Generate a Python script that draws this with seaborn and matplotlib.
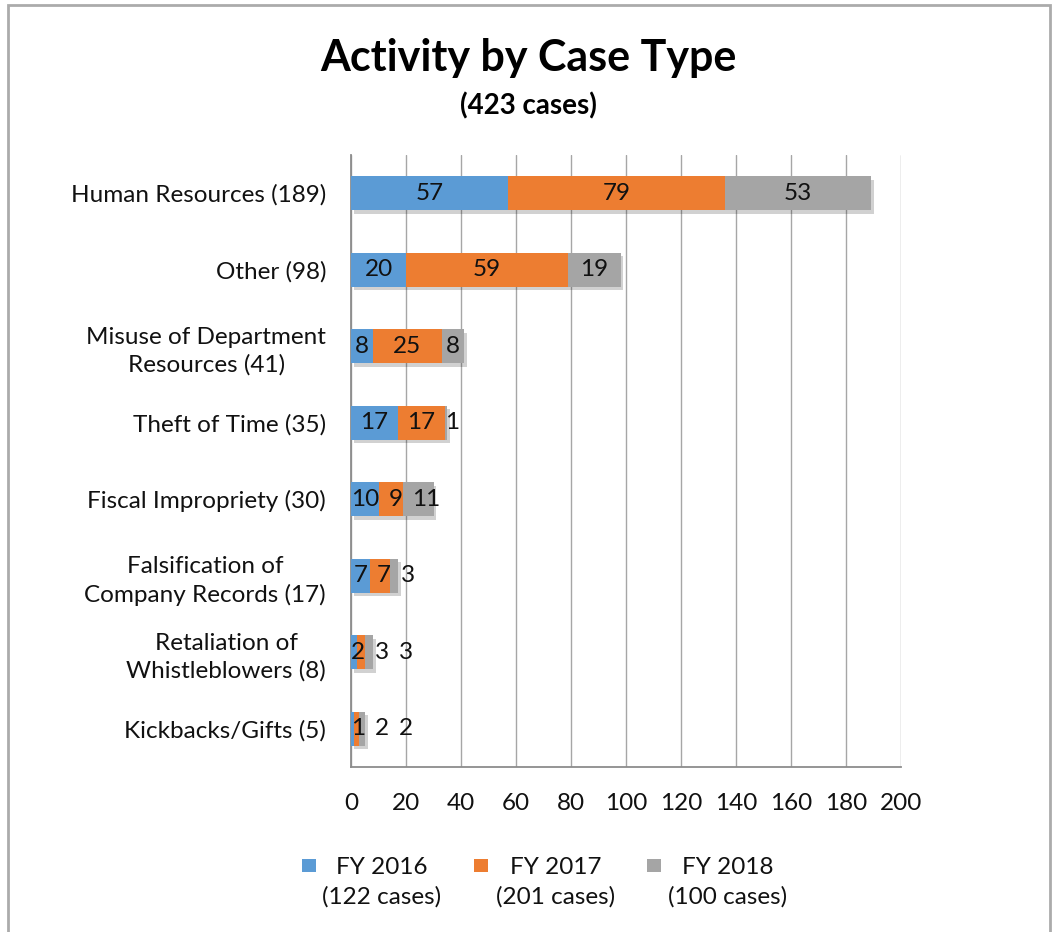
import matplotlib
matplotlib.use("Agg")
import matplotlib.pyplot as plt
import matplotlib.patheffects as pe
from matplotlib.patches import Rectangle
import seaborn as sns
import pandas as pd
import numpy as np

categories = ["Human Resources (189)", "Other (98)", "Misuse of Department\nResources (41)",
              "Theft of Time (35)", "Fiscal Impropriety (30)", "Falsification of\nCompany Records (17)",
              "Retaliation of\nWhistleblowers (8)", "Kickbacks/Gifts (5)"]
fy2016 = [57, 20, 8, 17, 10, 7, 2, 1]
fy2017 = [79, 59, 25, 17, 9, 7, 3, 2]
fy2018 = [53, 19, 8, 1, 11, 3, 3, 2]
series_names = ["FY 2016\n(122 cases)", "FY 2017\n(201 cases)", "FY 2018\n(100 cases)"]
colors = ["#5B9BD5", "#ED7D31", "#A5A5A5"]
xticks = list(range(0, 201, 20))

sns.set_theme(style="white")
plt.rcParams['font.family'] = ['Lato', 'DejaVu Sans']

FS = 17.5

fig = plt.figure(figsize=(10.57, 9.32), dpi=100)
ax = fig.add_axes([351/1057, 1-767/932, 550/1057, (767-155)/932])

df = pd.DataFrame({"cat": categories, "a": fy2016, "b": fy2017, "c": fy2018})
df["c1"] = df["a"]
df["c2"] = df["a"] + df["b"]
df["c3"] = df["a"] + df["b"] + df["c"]

shadow = [pe.SimplePatchShadow(offset=(2, -2.5), shadow_rgbFace="#000000", alpha=0.18), pe.Normal()]
for col, color in zip(["c3", "c2", "c1"], colors[::-1]):
    sns.barplot(data=df, x=col, y="cat", color=color, orient="h", width=0.44,
                saturation=1, ax=ax, order=categories, zorder=3)
for i, p in enumerate(ax.patches):
    p.set_edgecolor("none")
    if i < len(categories):
        p.set_path_effects(shadow)

ax.set_xlim(0, 200)
ax.set_xticks(xticks)
ax.set_xticklabels([str(t) for t in xticks], fontsize=FS)
ax.xaxis.grid(True, color="#A6A6A6", linewidth=1.0, zorder=0)
ax.set_axisbelow(True)
ax.set_xlabel("")
ax.set_ylabel("")
ax.tick_params(axis="y", labelsize=FS, length=0, pad=18, labelcolor="#111111")
ax.tick_params(axis="x", length=0, pad=19, labelcolor="#111111")
for lbl in ax.get_yticklabels():
    lbl.set_horizontalalignment("right")
    lbl.set_multialignment("center")
    lbl.set_linespacing(1.35)
for s in ["top", "right"]:
    ax.spines[s].set_visible(False)
for s in ["left", "bottom"]:
    ax.spines[s].set_color("#8C8C8C")
    ax.spines[s].set_linewidth(1.3)

# data labels with simple overlap avoidance (widths measured in data units)
fig.canvas.draw()
renderer = fig.canvas.get_renderer()
inv = ax.transData.inverted()
gap = 3.5
for i in range(len(categories)):
    vals = [fy2016[i], fy2017[i], fy2018[i]]
    left = 0
    prev_right = None
    for v in vals:
        center = left + v / 2
        t = ax.text(center, i, str(v), ha="center", va="center", fontsize=FS,
                    color="#111111", zorder=5)
        bb = t.get_window_extent(renderer)
        w = inv.transform((bb.x1, 0))[0] - inv.transform((bb.x0, 0))[0]
        x = max(center, w / 2)
        if prev_right is not None:
            x = max(x, prev_right + gap + w / 2)
        t.set_x(x)
        prev_right = x + w / 2
        left += v

fig.text(0.5, 1-58/932, "Activity by Case Type", ha="center", va="center",
         fontsize=31, fontweight="bold", color="#000000")
fig.text(0.5, 1-106/932, "(423 cases)", ha="center", va="center",
         fontsize=20, fontweight="bold", color="#000000")

# legend: square markers aligned with first line, two-line centered labels
marker_x = [302, 474, 647]
text_cx = [382, 556, 728]
for mx, tx, name, c in zip(marker_x, text_cx, series_names, colors):
    fig.patches.append(Rectangle((mx/1057, 1-872/932), 14/1057, 13/932,
                                 transform=fig.transFigure, facecolor=c, edgecolor="none"))
    fig.text(tx/1057, 1-882/932, name, ha="center", va="center", fontsize=FS,
             multialignment="center", linespacing=1.45, color="#111111")

fig.patches.append(Rectangle((8/1057, -0.05), (1050-8)/1057, 1.05 - 5/932,
                             transform=fig.transFigure, fill=False,
                             edgecolor="#ABABAB", linewidth=2))

fig.savefig("out.png", dpi=100)
